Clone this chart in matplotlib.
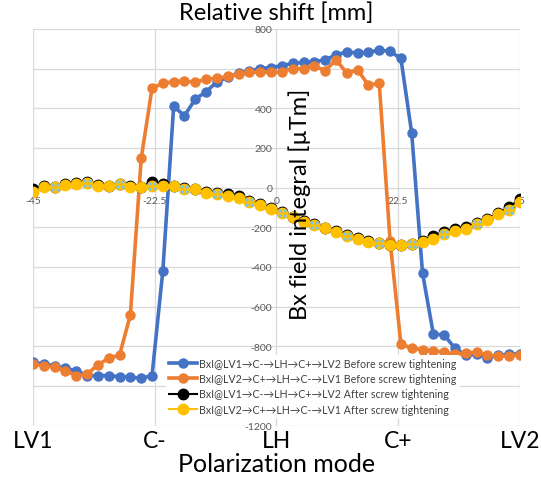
import matplotlib
matplotlib.use('Agg')
import matplotlib.pyplot as plt
from matplotlib.path import Path

# ------------------------------
# Data
# ------------------------------
shift_mm = [-45, -43, -41, -39, -37, -35, -33, -31, -29, -27, -25, -23, -21, -19, -17, -15,
            -13, -11, -9, -7, -5, -3, -1, 1, 3, 5, 7, 9, 11, 13, 15, 17, 19, 21, 23, 25,
            27, 29, 31, 33, 35, 37, 39, 41, 43, 45]

before_lv1_lv2 = [-881, -889, -898, -911, -923, -948, -948, -948, -953, -956, -961, -948,
                  -419, 409, 362, 446, 483, 533, 555, 577, 588, 600, 605, 614, 626, 631,
                  634, 644, 668, 684, 678, 681, 693, 686, 651, 275, -431, -738, -743, -810,
                  -845, -840, -858, -845, -840, -838]

before_lv2_lv1 = [-889, -898, -906, -923, -948, -940, -894, -860, -844, -642, 147, 500,
                  526, 533, 538, 530, 547, 550, 560, 572, 580, 583, 580, 583, 600, 600,
                  614, 588, 644, 577, 593, 516, 526, -268, -788, -810, -817, -822, -830,
                  -839, -834, -830, -844, -850, -847, -844]

after_lv1_lv2 = [-8, 10, 5, 20, 22, 28, 12, 8, 20, 8, 5, 28, 20, 10, -2, -5, -22, -28, -35,
                 -45, -70, -82, -105, -125, -148, -170, -185, -203, -220, -240, -255, -270,
                 -278, -288, -290, -283, -268, -245, -222, -210, -200, -180, -158, -130,
                 -97, -60]

after_lv2_lv1 = [-24, 1, 1, 13, 18, 23, 6, 6, 18, 1, 1, 6, 6, 6, -8, -8, -28, -33, -41,
                 -54, -75, -88, -108, -128, -150, -175, -189, -206, -223, -243, -259, -273,
                 -280, -290, -290, -285, -273, -259, -234, -218, -209, -184, -162, -134,
                 -112, -72]

series_labels = [
    "BxI@LV1\u2192C-\u2192LH\u2192C+\u2192LV2 Before screw tightening",
    "BxI@LV2\u2192C+\u2192LH\u2192C-\u2192LV1 Before screw tightening",
    "BxI@LV1\u2192C-\u2192LH\u2192C+\u2192LV2 After screw tightening",
    "BxI@LV2\u2192C+\u2192LH\u2192C-\u2192LV1 After screw tightening",
]

shift_ticks = [-45, -22.5, 0, 22.5, 45]
shift_ticklabels = ["-45", "-22.5", "0", "22.5", "45"]
mode_labels = ["LV1", "C-", "LH", "C+", "LV2"]
field_ticks = [-1200, -1000, -800, -600, -400, -200, 0, 200, 400, 600, 800]
# -1000 sits behind the legend in the reference
field_ticklabels = ["-1200", "", "-800", "-600", "-400", "-200", "0", "200", "400", "600", "800"]

# every third point of the yellow series shows light blue speckles
speckle_idx = list(range(2, 46, 3))

# ------------------------------
# Style
# ------------------------------
plt.rcParams['font.family'] = ['Lato', 'DejaVu Sans']
BLUE = '#4472C4'
ORANGE = '#ED7D31'
YELLOW = '#FFC000'
SPECKLE = '#7CC4EC'
GRID = '#D9D9D9'
TICK = '#595959'

# four little dots in a square, used as a marker
dots = [Path.circle((cx, cy), 0.2) for cx in (-0.32, 0.32) for cy in (-0.32, 0.32)]
speckle_marker = Path.make_compound_path(*dots)

fig = plt.figure(figsize=(5.41, 4.81), dpi=100)
ax = fig.add_axes([0.061, 0.113, 0.9, 0.825])

ax.plot(shift_mm, before_lv1_lv2, color=BLUE, lw=2.6, marker='o', ms=6.5, label=series_labels[0])
ax.plot(shift_mm, before_lv2_lv1, color=ORANGE, lw=2.6, marker='o', ms=6.5, label=series_labels[1])
ax.plot(shift_mm, after_lv1_lv2, color='black', lw=1.5, marker='o', ms=7.5, label=series_labels[2])
ax.plot(shift_mm, after_lv2_lv1, color=YELLOW, lw=1.5, marker='o', ms=7.5, label=series_labels[3])

# speckled markers
ax.plot([shift_mm[i] for i in speckle_idx], [after_lv2_lv1[i] for i in speckle_idx],
        ls='none', marker=speckle_marker, ms=6, color=SPECKLE, mec='none', zorder=3)

ax.set_xlim(-45, 45)
ax.set_ylim(-1200, 800)

# axes cross at the origin, like the spreadsheet chart
ax.spines['left'].set_position(('data', 0))
ax.spines['bottom'].set_position(('data', 0))
for s in ax.spines.values():
    s.set_visible(False)

ax.set_xticks(shift_ticks)
ax.set_xticklabels(shift_ticklabels)
ax.set_yticks(field_ticks)
ax.set_yticklabels(field_ticklabels)
ax.tick_params(length=0, labelsize=7.5, labelcolor=TICK)
ax.tick_params(axis='x', pad=6)
ax.tick_params(axis='y', pad=3)
ax.grid(True, color=GRID, lw=0.9)
ax.set_axisbelow(True)

ax.set_title("Relative shift [mm]", fontsize=17, pad=7)
ax.text(4.3, -80, "Bx field integral [\u00b5Tm]", rotation=90, fontsize=17,
        ha='center', va='center')

# polarization mode labels below the plot
sec = ax.secondary_xaxis('bottom')
sec.set_xticks(shift_ticks)
sec.set_xticklabels(mode_labels)
sec.tick_params(length=0, labelsize=16.5, pad=3)
sec.spines['bottom'].set_visible(False)
sec.set_xlabel("Polarization mode", fontsize=18, labelpad=1)

leg = fig.legend(loc='upper left', bbox_to_anchor=(0.297, 0.272), fontsize=7.7,
                 frameon=True, facecolor='white', edgecolor='none', framealpha=1,
                 handlelength=2.6, handletextpad=0.2, labelspacing=0.4,
                 borderpad=0.3, labelcolor='#404040')

fig.savefig("out.png", dpi=100)
